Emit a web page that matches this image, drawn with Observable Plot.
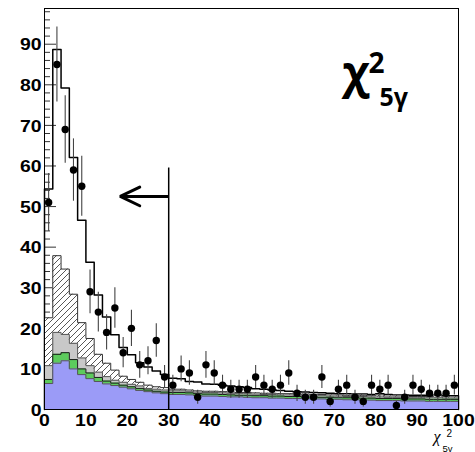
<!DOCTYPE html>
<html><head><meta charset="utf-8">
<script src="https://cdn.jsdelivr.net/npm/d3@7"></script>
<script src="https://cdn.jsdelivr.net/npm/@observablehq/plot@0.6"></script>
<style>body{margin:0;background:#fff}</style>
</head><body><div id="chart"></div>
<script>
// ---- data (50 bins of width 2 from 0 to 100) ----
const binWidth = 2;
const dataCounts = [51,85,69,59,55,29,24,19,25,14,20,11,12,17,8,
  6,10,9,3,11,9,6,5,5,5,8,6,5,6,9,4,3,3,8,2,5,6,3,2,6,5,6,1,3,6,5,4,4,4,6];
const totalMC = [54.3,88.7,79.2,62.1,46.6,36.3,28.2,22.8,18.4,15.3,13.5,11.5,10.5,9.5,8.6,
  7.7,7.6,6.9,6.8,6.3,6.2,6.0,5.8,5.6,5.4,5.1,5.0,4.8,4.7,4.5,4.4,4.3,4.2,4.1,4.0,
  3.9,3.9,3.8,3.8,3.7,3.9,3.7,3.6,3.6,3.5,3.5,3.5,3.6,3.4,3.4];
const hatchedMC = [22.6,37.9,34.6,28.4,21.4,17.5,13.6,11.4,9.7,8.2,7.4,6.7,6.0,5.6,5.4,
  5.0,5.0,4.8,4.6,4.5,4.5,4.4,4.3,4.2,4.2,4.1,4.0,4.0,3.9,3.9,3.8,3.8,3.7,3.7,3.6,
  3.6,3.5,3.5,3.5,3.4,3.6,3.3,3.3,3.3,3.2,3.2,3.2,3.4,3.1,3.1];
const grayMC = [10.8,19.0,18.5,16.3,12.7,10.8,9.2,8.1,7.2,6.7,6.2,5.8,5.2,5.0,4.8,
  4.6,4.6,4.5,4.3,4.2,4.2,4.1,4.0,3.9,3.9,3.8,3.7,3.7,3.6,3.6,3.5,3.5,3.4,3.4,3.3,
  3.3,3.2,3.2,3.2,3.1,3.1,3.0,3.0,3.0,2.9,2.9,2.9,2.9,2.8,2.8];
const greenMC = [7.4,13.6,14.0,12.3,10.0,9.0,7.9,7.0,6.5,6.0,5.6,5.2,4.8,4.5,4.3,
  4.2,4.2,4.1,3.9,3.8,3.8,3.7,3.6,3.5,3.5,3.4,3.4,3.3,3.3,3.2,3.2,3.1,3.1,3.0,3.0,
  2.9,2.9,2.9,2.8,2.8,2.7,2.7,2.7,2.6,2.6,2.6,2.5,2.5,2.5,2.5];
const blueMC = [6.4,11.4,12.0,10.0,8.6,7.6,6.9,6.3,5.9,5.5,5.1,4.7,4.4,4.1,3.9,
  3.7,3.7,3.6,3.4,3.3,3.3,3.2,3.1,3.1,3.0,2.9,2.9,2.8,2.8,2.7,2.7,2.7,2.6,2.6,2.5,
  2.5,2.4,2.4,2.3,2.3,2.2,2.2,2.2,2.1,2.1,2.1,2.0,2.0,2.0,2.0];
const xTicks = [0,10,20,30,40,50,60,70,80,90,100];
const yTicks = [0,10,20,30,40,50,60,70,80,90];
const yMinorTicks = [2,4,6,8,12,14,16,18,22,24,26,28,32,34,36,38,42,44,46,48,52,54,56,58,62,64,66,68,72,74,76,78,82,84,86,88,92,94,96,98];
const cutValue = 30, cutTop = 59.5;
const arrowY = 52.5, arrowTip = 18.3;
const headDx = 4.7, headDy = 2.3;

// ---- derived tables ----
const obs = dataCounts.map((n, i) => ({x: i*binWidth + binWidth/2, n, lo: n - Math.sqrt(n), hi: n + Math.sqrt(n)}));
function stepPts(vals, closed) {
  const pts = [];
  if (closed) pts.push({x: 0, y: 0});
  vals.forEach((v, i) => { pts.push({x: i*binWidth, y: v}); pts.push({x: (i+1)*binWidth, y: v}); });
  if (closed) pts.push({x: vals.length*binWidth, y: 0});
  return pts;
}
const head = [{x: arrowTip + headDx, y: arrowY + headDy}, {x: arrowTip, y: arrowY}, {x: arrowTip + headDx, y: arrowY - headDy}];

const layers = [
  {vals: hatchedMC, fill: "url(#hatch)", stroke: "#333"},
  {vals: grayMC, fill: "#c8c8c8", stroke: "#555"},
  {vals: greenMC, fill: "#5ccb5c", stroke: "#1a1a1a"},
  {vals: blueMC, fill: "#9b9bf7", stroke: "#555"}
];

const chart = Plot.plot({
  width: 475, height: 452,
  marginLeft: 44, marginRight: 17, marginTop: 8, marginBottom: 43,
  style: {background: "white", fontFamily: "Liberation Sans, Arial, sans-serif", color: "black"},
  x: {domain: [0, 100], axis: null},
  y: {domain: [0, 98.8], axis: null},
  marks: [
    Plot.tickY(yMinorTicks, {y: d => d, insetRight: 414 - 6, stroke: "#333", strokeWidth: 1}),
    Plot.tickY(yTicks, {y: d => d, insetRight: 414 - 12, stroke: "#333", strokeWidth: 1}),
    Plot.line(stepPts(totalMC, true), {x: "x", y: "y", stroke: "black", strokeWidth: 1.5}),
    ...layers.flatMap(l => [
      Plot.areaY(stepPts(l.vals, false), {x: "x", y1: 0, y2: "y", fill: l.fill}),
      Plot.line(stepPts(l.vals, true), {x: "x", y: "y", stroke: l.stroke, strokeWidth: 1})
    ]),
    Plot.ruleX([cutValue], {y1: 0, y2: cutTop, stroke: "black", strokeWidth: 1.5}),
    Plot.ruleY([arrowY], {x1: arrowTip, x2: cutValue, stroke: "black", strokeWidth: 3}),
    Plot.line(head, {x: "x", y: "y", stroke: "black", strokeWidth: 3, strokeLinejoin: "miter"}),
    Plot.ruleX(obs, {x: "x", y1: d => Math.max(0, d.lo), y2: "hi", stroke: "#444", strokeWidth: 1.1}),
    Plot.dot(obs, {x: "x", y: "n", r: 3.7, fill: "black"}),
    Plot.frame({stroke: "black", strokeWidth: 1}),
    Plot.axisX(xTicks, {tickSize: 0, tickPadding: 5, fontSize: 16.5, fontWeight: "bold", tickFormat: d => String(d), label: null, className: "xlab"}),
    Plot.axisY(yTicks, {tickSize: 0, tickPadding: 3, fontSize: 16.5, fontWeight: "bold", tickFormat: d => String(d), label: null, dy: 1, className: "ylab"}),
    // big title chi^2_{5gamma}
    Plot.text(["χ"], {frameAnchor: "top-left", dx: 298, dy: 79.5, textAnchor: "start", lineAnchor: "bottom", fontSize: 45, fontWeight: "bold", fontFamily: "Open Sans"}),
    Plot.text(["2"], {frameAnchor: "top-left", dx: 324, dy: 64, textAnchor: "start", lineAnchor: "bottom", fontSize: 28, fontWeight: "bold", fontFamily: "Open Sans"}),
    Plot.text(["5γ"], {frameAnchor: "top-left", dx: 335, dy: 97, textAnchor: "start", lineAnchor: "bottom", fontSize: 25, fontWeight: "bold", fontFamily: "Open Sans"}),
    // axis title
    Plot.text(["χ"], {frameAnchor: "bottom-right", dx: -25, dy: 32, textAnchor: "start", lineAnchor: "bottom", fontSize: 16, fontStyle: "italic", fontFamily: "Liberation Serif"}),
    Plot.text(["2"], {frameAnchor: "bottom-right", dx: -12, dy: 27.5, textAnchor: "start", lineAnchor: "bottom", fontSize: 10, fontFamily: "Liberation Sans"}),
    Plot.text(["5γ"], {frameAnchor: "bottom-right", dx: -16, dy: 42, textAnchor: "start", lineAnchor: "bottom", fontSize: 9.5, fontFamily: "Liberation Sans"})
  ]
});

// hatch pattern definition
const svg = d3.select(chart);
const defs = svg.insert("defs", ":first-child");
const pat = defs.append("pattern").attr("id", "hatch").attr("patternUnits", "userSpaceOnUse")
  .attr("width", 6).attr("height", 6);
pat.append("rect").attr("width", 6).attr("height", 6).attr("fill", "white");
pat.append("path").attr("d", "M-1,1 l2,-2 M0,6 l6,-6 M5,7 l2,-2").attr("stroke", "#444").attr("stroke-width", 0.9);

// widen the bold tick digits like the reference
svg.selectAll("g.xlab text, g.ylab text, g[aria-label='x-axis tick label'] text, g[aria-label='y-axis tick label'] text").each(function() {
  const n = this.textContent.length;
  this.setAttribute("textLength", n * 10.8);
  this.setAttribute("lengthAdjust", "spacingAndGlyphs");
});

document.getElementById("chart").appendChild(chart);
</script>
</body></html>
